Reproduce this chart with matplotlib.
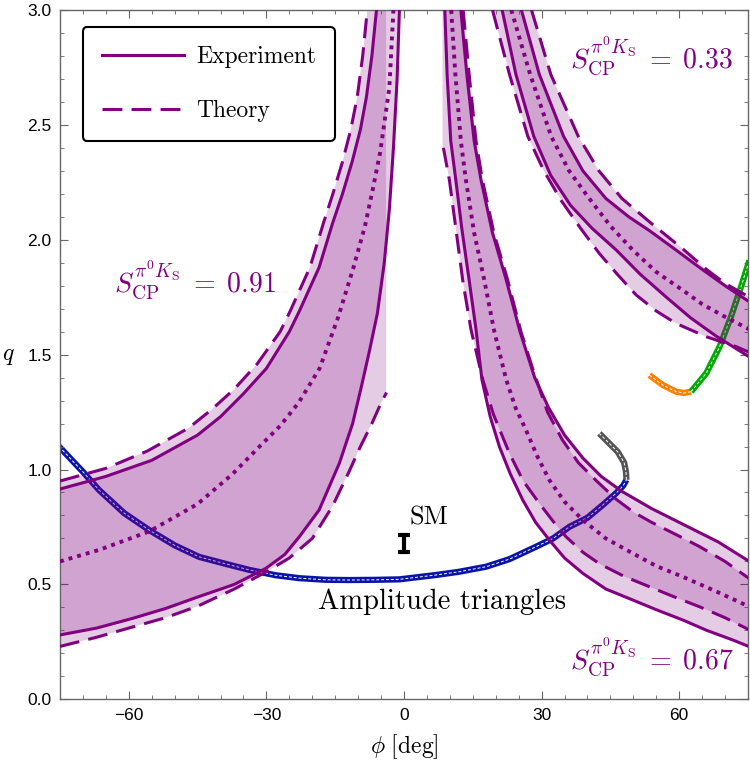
import matplotlib
matplotlib.use('Agg')
import matplotlib.pyplot as plt
from matplotlib.ticker import MultipleLocator
from matplotlib.lines import Line2D

plt.rcParams['mathtext.fontset'] = 'cm'

purple = '#800080'
cm_font = 'cmr10'

# --- S_CP = 0.91 band (left), ordered from phi = -75 up to the top
a_up_solid_phi = [-75, -65, -55, -45, -40, -35, -30, -25, -22.8, -18.5, -15.6, -13.4, -11.3, -9.5, -8.2, -7.0, -6.0]
a_up_solid_q = [0.915, 0.97, 1.04, 1.15, 1.23, 1.33, 1.44, 1.60, 1.69, 1.88, 2.07, 2.20, 2.34, 2.48, 2.62, 2.80, 3.0]
a_up_dash_phi = [-75, -65, -56, -47, -42, -37, -32, -27, -24.8, -20.5, -17.6, -15.5, -13.4, -11.6, -10.2, -9.0, -8.0]
a_up_dash_q = [0.95, 1.005, 1.08, 1.18, 1.26, 1.35, 1.46, 1.60, 1.69, 1.88, 2.07, 2.20, 2.34, 2.48, 2.62, 2.80, 3.0]
a_dot_phi = [-75, -66.5, -55.6, -45, -37.4, -31, -27, -23, -18.4, -14.4, -11, -8.5, -6.8, -5.2, -3.2, -2.3]
a_dot_q = [0.60, 0.65, 0.73, 0.85, 0.98, 1.11, 1.19, 1.29, 1.44, 1.66, 1.88, 2.06, 2.22, 2.38, 2.66, 3.0]
a_lo_solid_phi = [-75, -67, -59.2, -52, -44.7, -37, -30.1, -26, -22.8, -18.5, -14.1, -11.2, -9.3, -7.6, -5.8, -4.3, -3.2, -2.3, -1.5, -1.0]
a_lo_solid_q = [0.28, 0.31, 0.352, 0.395, 0.447, 0.50, 0.570, 0.63, 0.708, 0.824, 1.027, 1.20, 1.36, 1.51, 1.68, 1.90, 2.13, 2.40, 2.70, 3.0]
a_lo_dash_phi = [-75, -67, -60, -52, -45, -37, -30, -25, -20, -15.6, -12, -9.5, -7, -5, -4.2, -3.8]
a_lo_dash_q = [0.23, 0.27, 0.31, 0.355, 0.405, 0.48, 0.555, 0.615, 0.70, 0.84, 0.99, 1.10, 1.20, 1.29, 1.32, 1.335]
a_theory_edge = -3.9

# --- S_CP = 0.67 band (middle), ordered from the top down to phi = 75
b_lo_solid_phi = [8.9, 9.4, 10.2, 11.3, 12.6, 14.2, 15.7, 17.0, 18.8, 20.8, 23.2, 25.9, 28.7, 31.7, 35.0, 39.0, 44.0, 49.9, 55.0, 60.8, 66.0, 71.7, 75.3]
b_lo_solid_q = [3.0, 2.72, 2.43, 2.26, 2.05, 1.825, 1.61, 1.39, 1.23, 1.10, 0.98, 0.867, 0.77, 0.693, 0.615, 0.548, 0.48, 0.432, 0.39, 0.345, 0.30, 0.258, 0.229]
b_lo_dash_phi = [8.6, 9.9, 11.3, 12.8, 14.6, 17.2, 19.5, 23.0, 26.0, 29.5, 32.5, 35.3, 39.0, 42.6, 48.0, 53.5, 59.0, 64.4, 70.0, 75.3]
b_lo_dash_q = [2.40, 2.26, 2.05, 1.825, 1.61, 1.39, 1.24, 1.07, 0.95, 0.853, 0.775, 0.708, 0.64, 0.59, 0.535, 0.49, 0.445, 0.403, 0.355, 0.302]
b_dot_phi = [10.3, 11.2, 12.4, 13.5, 15.3, 17.5, 19.7, 22.3, 24.3, 26.6, 29.0, 31.7, 35.0, 39.0, 44.0, 49.9, 55.0, 60.8, 68.0, 75.3]
b_dot_q = [3.0, 2.72, 2.43, 2.26, 2.03, 1.825, 1.60, 1.39, 1.27, 1.172, 1.06, 0.954, 0.86, 0.78, 0.70, 0.635, 0.58, 0.533, 0.47, 0.403]
b_up_solid_phi = [12.4, 13.7, 15.3, 16.8, 19.3, 22.3, 25.3, 28.5, 31.5, 35.0, 39.0, 43.0, 47.5, 54.0, 61.5, 68.5, 75.3]
b_up_solid_q = [3.0, 2.72, 2.43, 2.26, 2.03, 1.825, 1.60, 1.40, 1.27, 1.15, 1.05, 0.97, 0.905, 0.83, 0.755, 0.685, 0.60]
b_up_dash_phi = [12.9, 14.2, 15.7, 17.1, 19.6, 22.6, 25.5, 28.2, 31.3, 34.5, 38.0, 42.0, 46.3, 50.0, 54.0, 60.0, 64.4, 70.0, 75.3]
b_up_dash_q = [3.0, 2.72, 2.43, 2.26, 2.03, 1.825, 1.60, 1.43, 1.25, 1.13, 1.03, 0.95, 0.87, 0.815, 0.77, 0.71, 0.665, 0.60, 0.525]
b_theory_edge = 8.4

# --- S_CP = 0.33 band (right)
c_lo_solid_phi = [21.4, 24.4, 28.3, 32.0, 36.3, 41.0, 46.3, 51.5, 57.2, 62.5, 68.1, 75.3]
c_lo_solid_q = [3.0, 2.72, 2.45, 2.28, 2.15, 2.05, 1.955, 1.85, 1.75, 1.66, 1.58, 1.49]
c_lo_dash_phi = [19.3, 23.0, 27.0, 30.5, 34.3, 38.5, 42.6, 46.5, 50.6, 55.0, 59.3, 65.9, 72.4, 75.3]
c_lo_dash_q = [3.0, 2.72, 2.45, 2.30, 2.17, 2.05, 1.94, 1.85, 1.76, 1.69, 1.636, 1.578, 1.535, 1.51]
c_dot_phi = [23.4, 27.5, 32.1, 36.0, 40.0, 45.0, 49.9, 55.0, 60.8, 65.0, 69.5, 75.3]
c_dot_q = [3.0, 2.72, 2.45, 2.30, 2.19, 2.06, 1.955, 1.86, 1.78, 1.72, 1.67, 1.61]
c_up_solid_phi = [25.6, 29.5, 34.8, 39.0, 44.0, 49.0, 53.5, 59.0, 64.4, 70.0, 75.3]
c_up_solid_q = [3.0, 2.72, 2.45, 2.30, 2.18, 2.10, 2.04, 1.96, 1.88, 1.80, 1.73]
c_up_dash_phi = [27.8, 32.0, 38.0, 42.5, 47.5, 54.0, 60.8, 66.0, 70.0, 75.3]
c_up_dash_q = [3.0, 2.72, 2.45, 2.30, 2.18, 2.07, 1.96, 1.87, 1.81, 1.75]

# --- amplitude triangle curves
blue_phi = [-75.2, -70, -66.5, -61, -55.6, -50, -44.7, -39, -33.7, -28, -22.8, -17, -11.9, -6, -1.0, 7.0, 12, 17.9, 23, 28.8, 32.5, 36.1, 40, 43.3, 46.3, 47.8, 48.5]
blue_q = [1.10, 0.99, 0.911, 0.81, 0.737, 0.67, 0.62, 0.59, 0.563, 0.54, 0.527, 0.52, 0.519, 0.52, 0.522, 0.541, 0.555, 0.577, 0.61, 0.664, 0.70, 0.751, 0.79, 0.845, 0.898, 0.93, 0.955]
grey_phi = [48.5, 48.4, 48.0, 46.6, 44.4, 42.6]
grey_q = [0.955, 0.99, 1.03, 1.077, 1.121, 1.157]
orange_phi = [53.5, 56.4, 59.3, 61.0, 62.6]
orange_q = [1.411, 1.368, 1.339, 1.333, 1.339]
green_phi = [62.6, 65.9, 68.8, 71.3, 73.5, 75.3]
green_q = [1.339, 1.419, 1.534, 1.665, 1.796, 1.91]

sm_phi = 0.0
sm_q = 0.678
sm_err = 0.036

fig = plt.figure(figsize=(7.5, 7.75), dpi=100)
ax = fig.add_axes([0.08, 0.0977, 0.9173, 0.8894])


def trace(phi, q, color):
    ax.plot(phi, q, color=color, lw=4.5, solid_capstyle='butt', zorder=1)
    ax.plot(phi, q, color='white', lw=0.7, dashes=(3, 2), zorder=1.5)


trace(blue_phi, blue_q, '#0a14a8')
trace(grey_phi, grey_q, '#555555')
trace(orange_phi, orange_q, '#ff8000')
trace(green_phi, green_q, '#00aa00')

fill_kw = dict(color=purple, alpha=0.2, lw=0, zorder=2)

# theory fills (between dashed curves)
ax.fill(a_up_dash_phi + [a_theory_edge, a_theory_edge] + a_lo_dash_phi[::-1],
        a_up_dash_q + [3.0, a_lo_dash_q[-1]] + a_lo_dash_q[::-1], **fill_kw)
ax.fill([b_theory_edge, b_theory_edge] + b_lo_dash_phi + b_up_dash_phi[::-1],
        [3.0, b_lo_dash_q[0]] + b_lo_dash_q + b_up_dash_q[::-1], **fill_kw)
ax.fill(c_lo_dash_phi + c_up_dash_phi[::-1], c_lo_dash_q + c_up_dash_q[::-1], **fill_kw)

# experiment fills (between solid curves)
ax.fill(a_up_solid_phi + a_lo_solid_phi[::-1], a_up_solid_q + a_lo_solid_q[::-1], **fill_kw)
ax.fill(b_lo_solid_phi + b_up_solid_phi[::-1], b_lo_solid_q + b_up_solid_q[::-1], **fill_kw)
ax.fill(c_lo_solid_phi + c_up_solid_phi[::-1], c_lo_solid_q + c_up_solid_q[::-1], **fill_kw)

solid_kw = dict(color=purple, lw=2.2, zorder=3)
dash_kw = dict(color=purple, lw=2.2, dashes=(6.5, 3), zorder=3)
dot_kw = dict(color=purple, lw=2.8, dashes=(1.0, 1.3), zorder=3)

for phi, q in [(a_up_solid_phi, a_up_solid_q), (a_lo_solid_phi, a_lo_solid_q),
               (b_lo_solid_phi, b_lo_solid_q), (b_up_solid_phi, b_up_solid_q),
               (c_lo_solid_phi, c_lo_solid_q), (c_up_solid_phi, c_up_solid_q)]:
    ax.plot(phi, q, **solid_kw)
for phi, q in [(a_up_dash_phi, a_up_dash_q), (a_lo_dash_phi, a_lo_dash_q),
               (b_lo_dash_phi, b_lo_dash_q), (b_up_dash_phi, b_up_dash_q),
               (c_lo_dash_phi, c_lo_dash_q), (c_up_dash_phi, c_up_dash_q)]:
    ax.plot(phi, q, **dash_kw)
for phi, q in [(a_dot_phi, a_dot_q), (b_dot_phi, b_dot_q), (c_dot_phi, c_dot_q)]:
    ax.plot(phi, q, **dot_kw)

# SM point
ax.errorbar([sm_phi], [sm_q], yerr=[sm_err], fmt='none', ecolor='black',
            elinewidth=3, capsize=4, capthick=3, zorder=4)
ax.text(1.2, 0.79, 'SM', family=cm_font, fontsize=19, ha='left', va='center')
ax.text(8.3, 0.423, 'Amplitude triangles', family=cm_font, fontsize=20.5,
        ha='center', va='center')

lab = r'$S_{\mathrm{CP}}^{\pi^0 K_{\mathrm{S}}}\;=\;%s$'
ax.text(-63.2, 1.825, lab % '0.91', color=purple, fontsize=20, ha='left', va='center')
ax.text(36.1, 2.80, lab % '0.33', color=purple, fontsize=20, ha='left', va='center')
ax.text(36.1, 0.184, lab % '0.67', color=purple, fontsize=20, ha='left', va='center')

ax.set_xlim(-75, 75)
ax.set_ylim(0, 3)
ax.set_xticks([-60, -30, 0, 30, 60])
ax.xaxis.set_minor_locator(MultipleLocator(5))
ax.yaxis.set_major_locator(MultipleLocator(0.5))
ax.yaxis.set_minor_locator(MultipleLocator(0.1))
ax.tick_params(which='both', direction='in', top=True, right=True,
               color='#666666', labelsize=12.5, pad=6)
ax.tick_params(which='major', length=6)
ax.tick_params(which='minor', length=3)
for t in ax.get_xticklabels() + ax.get_yticklabels():
    t.set_family('Liberation Sans')
for s in ax.spines.values():
    s.set_color('#666666')
    s.set_linewidth(1.0)

ax.set_xlabel(r'$\phi\ [\mathrm{deg}]$', fontsize=17)
ax.xaxis.set_label_coords(0.5, -0.048)
ax.set_ylabel(r'$q$', fontsize=17, rotation=0, ha='center', va='center')
ax.yaxis.set_label_coords(-0.0756, 0.5)

handles = [Line2D([], [], color=purple, lw=2.2),
           Line2D([], [], color=purple, lw=2.2, dashes=(6.5, 3))]
leg = ax.legend(handles, ['Experiment', 'Theory'], loc='upper left',
                bbox_to_anchor=(0.033, 0.975), borderaxespad=0,
                prop={'family': cm_font, 'size': 17}, handlelength=3.5,
                handletextpad=0.5, labelspacing=1.35, borderpad=0.8,
                fancybox=True, framealpha=1)
leg.get_frame().set_edgecolor('black')
leg.get_frame().set_linewidth(1.5)
leg.set_zorder(5)

fig.savefig('out.png', dpi=100)
